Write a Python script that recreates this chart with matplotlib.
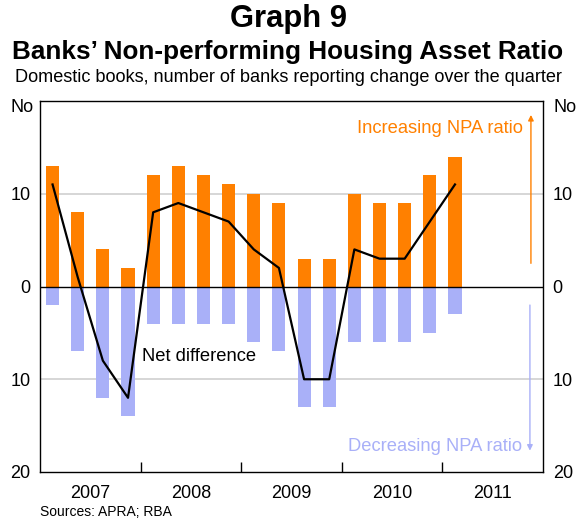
import matplotlib.pyplot as plt

plt.rcParams['font.family'] = ['Liberation Sans', 'DejaVu Sans']

# Donnees trimestrielles, 2007 T1 a 2011 T1
annees = [2007, 2007, 2007, 2007, 2008, 2008, 2008, 2008, 2009, 2009, 2009, 2009,
          2010, 2010, 2010, 2010, 2011]
trimestres = [1, 2, 3, 4, 1, 2, 3, 4, 1, 2, 3, 4, 1, 2, 3, 4, 1]
hausse = [13, 8, 4, 2, 12, 13, 12, 11, 10, 9, 3, 3, 10, 9, 9, 12, 14]
baisse = [2, 7, 12, 14, 4, 4, 4, 4, 6, 7, 13, 13, 6, 6, 6, 5, 3]
labels_annees = ["2007", "2008", "2009", "2010", "2011"]

orange = "#ff8000"
lavande = "#a9b0f8"

x = [a + (t - 0.5) / 4 for a, t in zip(annees, trimestres)]
net = [h - b for h, b in zip(hausse, baisse)]

fig = plt.figure(figsize=(5.76, 5.22), dpi=100)
ax = fig.add_axes([40 / 576, 1 - 472 / 522, 503 / 576, 371 / 522])

ax.bar(x, hausse, width=0.13, color=orange, zorder=2)
ax.bar(x, [-b for b in baisse], width=0.13, color=lavande, zorder=2)
ax.plot(x, net, color="black", lw=1.6, zorder=4)

# lignes de grille et zero
for g in [10, -10]:
    ax.axhline(g, color="#d0d0d0", lw=1.2, zorder=1)
ax.axhline(0, color="black", lw=1, zorder=3)

ax.set_xlim(2007, 2012)
ax.set_ylim(-20, 20)

# axe des x : traits aux annees, etiquettes au milieu
ax.set_xticks([2008, 2009, 2010, 2011])
ax.set_xticklabels([])
ax.set_xticks([2007.5, 2008.5, 2009.5, 2010.5, 2011.5], minor=True)
ax.set_xticklabels(labels_annees, minor=True, fontsize=13)
ax.tick_params(axis="x", which="major", direction="in", length=7, width=1)
ax.tick_params(axis="x", which="minor", length=0, pad=9)

# axe des y des deux cotes
yt = [-20, -10, 0, 10]
yl = ["20", "10", "0", "10"]
ax.set_yticks(yt)
ax.set_yticklabels(yl, fontsize=13)
ax.tick_params(axis="y", length=0, pad=7, labelright=True, right=False)
ax.text(-0.036, 0.983, "No", transform=ax.transAxes, ha="center", va="center", fontsize=13)
ax.text(1.044, 0.983, "No", transform=ax.transAxes, ha="center", va="center", fontsize=13)

for s in ax.spines.values():
    s.set_linewidth(1)

# annotations
ax.text(2011.80, 17, "Increasing NPA ratio", color=orange, ha="right", va="center", fontsize=13.2)
ax.annotate("", xy=(2011.88, 18.8), xytext=(2011.88, 2.2),
            arrowprops=dict(arrowstyle="-|>", color=orange, lw=1, mutation_scale=8))
ax.text(2011.79, -17.2, "Decreasing NPA ratio", color=lavande, ha="right", va="center", fontsize=13.2)
ax.annotate("", xy=(2011.87, -18), xytext=(2011.87, -1.7),
            arrowprops=dict(arrowstyle="-|>", color=lavande, lw=1, mutation_scale=8))
ax.text(2008.58, -7.6, "Net difference", ha="center", va="center", fontsize=13.2)

# titres
fig.text(0.5, 1 - 19 / 522, "Graph 9", ha="center", va="center", fontsize=22.3, fontweight="bold")
fig.text(0.5, 1 - 52 / 522, "Banks\u2019 Non-performing Housing Asset Ratio", ha="center", va="center",
         fontsize=18.8, fontweight="bold")
fig.text(0.5, 1 - 77 / 522, "Domestic books, number of banks reporting change over the quarter",
         ha="center", va="center", fontsize=13.1)
fig.text(40 / 576, 1 - 512 / 522, "Sources: APRA; RBA", ha="left", va="center", fontsize=10)

fig.savefig("out.png", dpi=100)
